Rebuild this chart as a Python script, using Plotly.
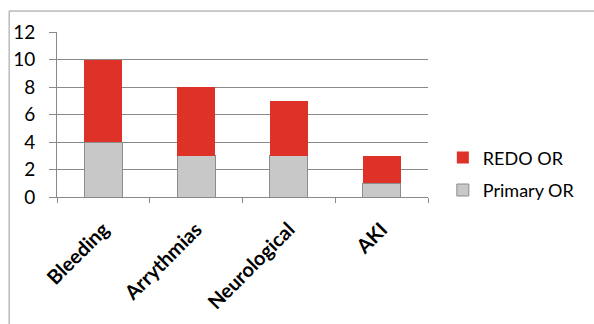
import plotly.graph_objects as go

categories = ["Bleeding", "Arrythmias", "Neurological", "AKI"]
primary_or = [4, 3, 3, 1]
redo_or = [6, 5, 4, 2]
y_ticks = [0, 2, 4, 6, 8, 10, 12]

GRID = "#898989"
FONT = "Lato"

fig = go.Figure()
fig.add_trace(go.Bar(
    x=categories, y=primary_or, name="Primary OR",
    marker=dict(color="#C8C8C8", line=dict(color="#8C8C8C", width=1)),
    legendgroup="primary", legendrank=2,
))
fig.add_trace(go.Bar(
    x=categories, y=redo_or, name="REDO OR",
    marker=dict(color="#DE3127", line=dict(width=0)),
    legendgroup="redo", legendrank=1,
))

fig.update_layout(
    width=594, height=324,
    margin=dict(l=57, r=166, t=32, b=127, autoexpand=False),
    barmode="stack", bargap=0.59,
    paper_bgcolor="white", plot_bgcolor="white",
    font=dict(family=FONT, color="#000000", size=18),
    showlegend=True,
    legend=dict(
        x=1.04, y=0.14, xanchor="left", yanchor="middle",
        traceorder="grouped", tracegroupgap=6,
        font=dict(family=FONT, size=18),
        bgcolor="rgba(0,0,0,0)",
    ),
    xaxis=dict(
        showline=True, linecolor=GRID, linewidth=1,
        ticks="outside", tickson="boundaries", ticklen=5, tickcolor=GRID,
        tickangle=-45, ticklabelstandoff=12,
        tickfont=dict(family=FONT, size=20, weight="bold"),
        showgrid=False,
    ),
    yaxis=dict(
        range=[0, 12], tickvals=y_ticks,
        showline=True, linecolor=GRID, linewidth=1,
        ticks="outside", ticklen=7, tickcolor=GRID,
        ticklabelstandoff=10,
        showgrid=True, gridcolor=GRID, gridwidth=1,
        zeroline=False,
        tickfont=dict(family=FONT, size=19),
    ),
    shapes=[
        dict(type="line", xref="paper", yref="paper",
             x0=-0.129, x1=1.6, y0=1.127, y1=1.127,
             line=dict(color="#999999", width=1)),
        dict(type="line", xref="paper", yref="paper",
             x0=-0.129, x1=-0.129, y0=1.127, y1=-1.0,
             line=dict(color="#999999", width=1)),
    ],
)

fig.write_html("out.html")
